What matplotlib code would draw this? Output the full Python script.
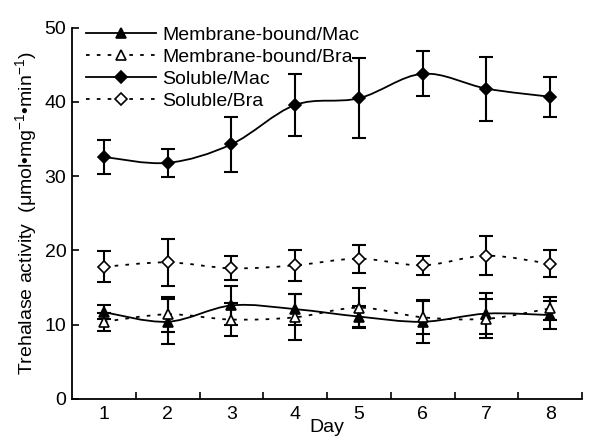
import numpy as np
import matplotlib
matplotlib.use("Agg")
import matplotlib.pyplot as plt
from matplotlib.path import Path
from matplotlib.patches import PathPatch

plt.rcParams['font.family'] = ['Liberation Sans', 'DejaVu Sans']
plt.rcParams['mathtext.fontset'] = 'custom'
plt.rcParams['mathtext.rm'] = 'Liberation Sans'
plt.rcParams['mathtext.it'] = 'Liberation Sans:italic'

days = [1, 2, 3, 4, 5, 6, 7, 8]

mem_mac = [11.7, 10.4, 12.6, 12.1, 11.1, 10.4, 11.5, 11.3]
mem_mac_err = [0.9, 3.0, 2.6, 2.1, 1.4, 2.8, 2.8, 1.9]
mem_bra = [10.4, 11.4, 10.7, 11.0, 12.3, 11.0, 10.8, 12.2]
mem_bra_err = [1.2, 2.4, 2.2, 3.1, 2.7, 2.3, 2.6, 1.5]
sol_mac = [32.6, 31.8, 34.3, 39.6, 40.5, 43.8, 41.8, 40.7]
sol_mac_err = [2.3, 1.9, 3.7, 4.2, 5.4, 3.0, 4.3, 2.7]
sol_bra = [17.8, 18.4, 17.6, 18.0, 18.9, 18.0, 19.3, 18.2]
sol_bra_err = [2.1, 3.2, 1.6, 2.1, 1.9, 1.3, 2.6, 1.8]


def smooth_path(x, y):
    # Excel-like smoothed line: cubic bezier segments through the points
    pts = np.column_stack([x, y]).astype(float)
    ext = np.vstack([pts[0], pts, pts[-1]])
    verts = [pts[0]]
    codes = [Path.MOVETO]
    for i in range(1, len(ext) - 2):
        p0, p1, p2, p3 = ext[i - 1], ext[i], ext[i + 1], ext[i + 2]
        verts += [p1 + (p2 - p0) / 6, p2 - (p3 - p1) / 6, p2]
        codes += [Path.CURVE4] * 3
    return Path(verts, codes)


fig = plt.figure(figsize=(6.07, 4.42), dpi=100)
ax = fig.add_axes([0.1186, 0.0973, 0.8404, 0.84])

series = [
    (mem_mac, mem_mac_err, '^', 'black', '-', 'Membrane-bound/Mac'),
    (mem_bra, mem_bra_err, '^', 'white', (0, (2, 4)), 'Membrane-bound/Bra'),
    (sol_mac, sol_mac_err, 'D', 'black', '-', 'Soluble/Mac'),
    (sol_bra, sol_bra_err, 'D', 'white', (0, (2, 4)), 'Soluble/Bra'),
]

for vals, err, mk, fc, ls, lab in series:
    patch = PathPatch(smooth_path(days, vals), fill=False, edgecolor='black',
                      lw=1.3, linestyle=ls)
    ax.add_patch(patch)
    ax.errorbar(days, vals, yerr=err, fmt='none', ecolor='black',
                elinewidth=1.5, capsize=5, capthick=1.5)
    ms = 7 if mk == '^' else 6
    ax.plot(days, vals, linestyle='none', marker=mk, ms=ms,
            mfc=fc, mec='black', mew=1.2)
    # legend proxy
    ax.plot([], [], color='black', lw=1.3, linestyle=ls, marker=mk, ms=ms,
            mfc=fc, mec='black', mew=1.2, label=lab)

ax.set_xlim(0.5, 8.5)
ax.set_ylim(0, 50)
ax.set_yticks([0, 10, 20, 30, 40, 50])
ax.set_xticks(days)
ax.set_xticks(np.arange(1.5, 9, 1), minor=True)
ax.tick_params(axis='x', which='major', length=0, labelsize=14, pad=5)
ax.tick_params(axis='x', which='minor', direction='in', length=5, width=1.2)
ax.tick_params(axis='y', direction='in', length=5, width=1.2, labelsize=14, pad=4)

for s in ['top', 'right']:
    ax.spines[s].set_visible(False)
for s in ['left', 'bottom']:
    ax.spines[s].set_linewidth(1.3)

ax.set_xlabel('Day', fontsize=14, labelpad=-3)
ax.set_ylabel('Trehalase activity  (μmol•mg$^{-1}$•min$^{-1}$)', fontsize=14, labelpad=4)

ax.legend(loc='upper left', bbox_to_anchor=(0.0, 1.04), frameon=False,
          fontsize=14, handlelength=3.6, handletextpad=0.35, labelspacing=0.22,
          borderpad=0.2)

fig.savefig('out.png', dpi=100)
